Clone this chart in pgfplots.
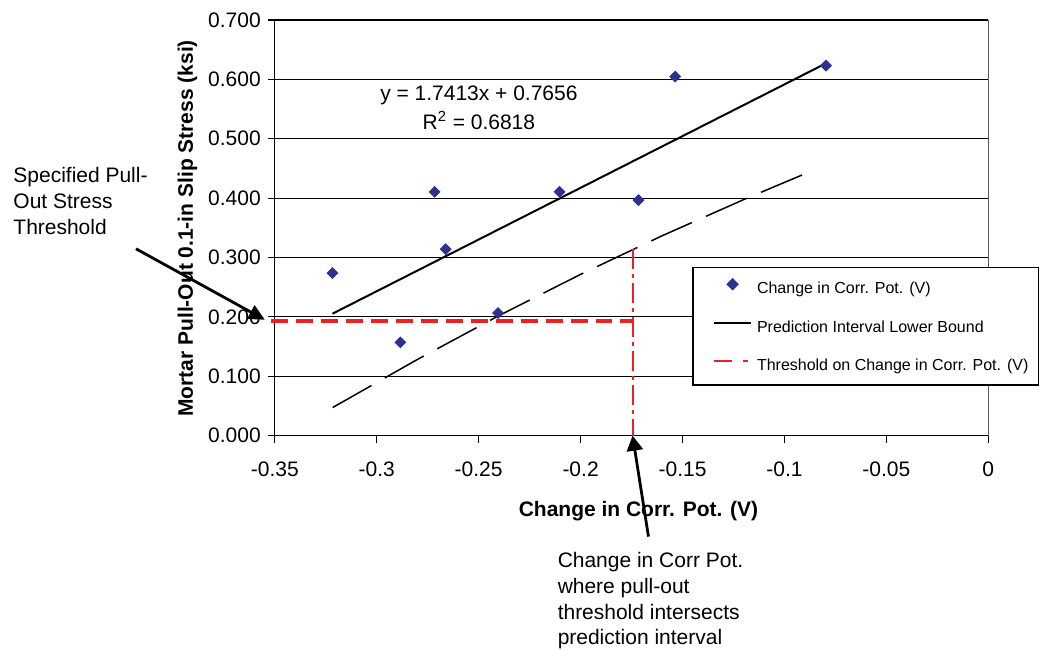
\documentclass[border=0pt]{standalone}
\usepackage{fontspec}
\setmainfont{Liberation Sans}
\usepackage{pgfplots}
\pgfplotsset{compat=1.18}
\usetikzlibrary{arrows.meta}
\definecolor{ptblue}{RGB}{46,49,146}
\definecolor{thred}{RGB}{237,32,36}
\newcommand{\fs}{\fontsize{10.5}{12.6}\selectfont}
\pgfplotsset{
  marklegend/.style={legend image code/.code={
    \path[draw=none, fill=none] (-5.5pt,2.3pt) -- (18.5pt,2.3pt);
    \draw[##1, only marks] plot coordinates {(9.25pt,2.3pt)};}},
  linelegend/.style={legend image code/.code={
    \path[draw=none, fill=none] (-5.5pt,2.3pt) -- (18.5pt,2.3pt);
    \draw[##1] (0pt,2.3pt) -- (18.5pt,2.3pt);}},
  redlegend/.style={legend image code/.code={
    \path[draw=none, fill=none] (-5.5pt,2.3pt) -- (18.5pt,2.3pt);
    \draw[##1, dash pattern=on 9pt off 5.5pt on 2.5pt off 5pt] (0pt,2.3pt) -- (18.5pt,2.3pt);}},
}
\begin{document}
\begin{tikzpicture}
\begin{axis}[
  scale only axis, width=357pt, height=208pt,
  xmin=-0.35, xmax=0, ymin=0, ymax=0.7,
  axis x line*=bottom, axis y line*=left,
  axis line style={line width=0.6pt, -},
  xtick={-0.35,-0.3,-0.25,-0.2,-0.15,-0.1,-0.05,0},
  xticklabels={-0.35,-0.3,-0.25,-0.2,-0.15,-0.1,-0.05,0},
  ytick={0,0.1,0.2,0.3,0.4,0.5,0.6,0.7},
  yticklabels={0.000,0.100,0.200,0.300,0.400,0.500,0.600,0.700},
  tick align=outside, major tick length=3.5pt,
  tick style={line width=0.6pt, black},
  ymajorgrids, grid style={line width=0.6pt, black},
  ticklabel style={font=\fs},
  xticklabel style={yshift=-6pt},
  clip=false,
  legend cell align=left,
  legend style={at={(0.5854,0.4063)}, anchor=north west, draw=black, line width=0.6pt, fill=white,
    font=\fontsize{8}{9.6}\selectfont, inner xsep=5pt, inner ysep=5.75pt,
    row sep=11.2pt, column sep=2.5pt,
    nodes={inner sep=0pt, text height=6.5pt, text depth=1.5pt}},
  linelegend,
]
\path (axis cs:-0.4848,-0.3600) rectangle (axis cs:0.0245,0.7336);
\draw[gray!70!black, line width=0.8pt] (rel axis cs:1,0) -- (rel axis cs:1,1);

\addplot[only marks, mark=square*, mark size=1.9pt, color=ptblue,
  mark options={rotate=45, fill=ptblue, draw=ptblue}, marklegend] coordinates {
  (-0.3217,0.2738) (-0.2884,0.1570) (-0.2716,0.4106) (-0.2662,0.3140)
  (-0.2405,0.2064) (-0.2103,0.4106) (-0.1716,0.3966) (-0.1536,0.6046)
  (-0.0796,0.6231)};
\addlegendentry{Change in Corr. Pot. (V)}

\addplot[black, line width=1pt, no marks, linelegend] coordinates {(-0.3217,0.2054) (-0.0796,0.6270)};
\addlegendentry{Prediction Interval Lower Bound}

\addplot[black, line width=0.75pt, no marks, dash pattern=on 22.3pt off 7.7pt, forget plot]
  coordinates {(-0.3216,0.0474) (-0.28,0.1284) (-0.24,0.2022) (-0.2,0.2716)
               (-0.16,0.3366) (-0.12,0.3975) (-0.0856,0.4472)};

\addplot[thred, line width=2pt, no marks, dash pattern=on 8.5pt off 4pt, forget plot]
  coordinates {(-0.352,0.1923) (-0.1745,0.1923)};

\addplot[thred, line width=1pt, no marks, dash pattern=on 10pt off 2.5pt on 2pt off 2.5pt, redlegend]
  coordinates {(-0.1745,0.3135) (-0.1745,0)};
\addlegendentry{Threshold on Change in Corr. Pot. (V)}

\node[anchor=base, font=\fs] at (axis cs:-0.2499,0.5637) {y = 1.7413x + 0.7656};
\node[anchor=base, font=\fs] at (axis cs:-0.2499,0.5149) {R\textsuperscript{2} = 0.6818};

\node[anchor=base, font=\bfseries\fs] at (axis cs:-0.1716,-0.1363) {Change in Corr. Pot. (V)};
\node[anchor=base, rotate=90, font=\bfseries\fs] at (axis cs:-0.3902,0.349) {Mortar Pull-Out 0.1-in Slip Stress (ksi)};

\node[anchor=base west, font=\fs, inner sep=0pt] at (axis cs:-0.4784,0.4257) {Specified Pull-};
\node[anchor=base west, font=\fs, inner sep=0pt] at (axis cs:-0.4784,0.3820) {Out Stress};
\node[anchor=base west, font=\fs, inner sep=0pt] at (axis cs:-0.4784,0.3382) {Threshold};

\node[anchor=base west, font=\fs, inner sep=0pt] at (axis cs:-0.2114,-0.2221) {Change in Corr Pot.};
\node[anchor=base west, font=\fs, inner sep=0pt] at (axis cs:-0.2114,-0.2659) {where pull-out};
\node[anchor=base west, font=\fs, inner sep=0pt] at (axis cs:-0.2114,-0.3088) {threshold intersects};
\node[anchor=base west, font=\fs, inner sep=0pt] at (axis cs:-0.2114,-0.3517) {prediction interval};

\draw[line width=1.4pt, -{Triangle[length=8pt,width=7.5pt]}] (axis cs:-0.4181,0.3147) -- (axis cs:-0.3549,0.1952);
\draw[line width=1.4pt, -{Triangle[length=7.5pt,width=8pt]}] (axis cs:-0.1667,-0.17) -- (axis cs:-0.1745,0);
\end{axis}
\end{tikzpicture}
\end{document}
